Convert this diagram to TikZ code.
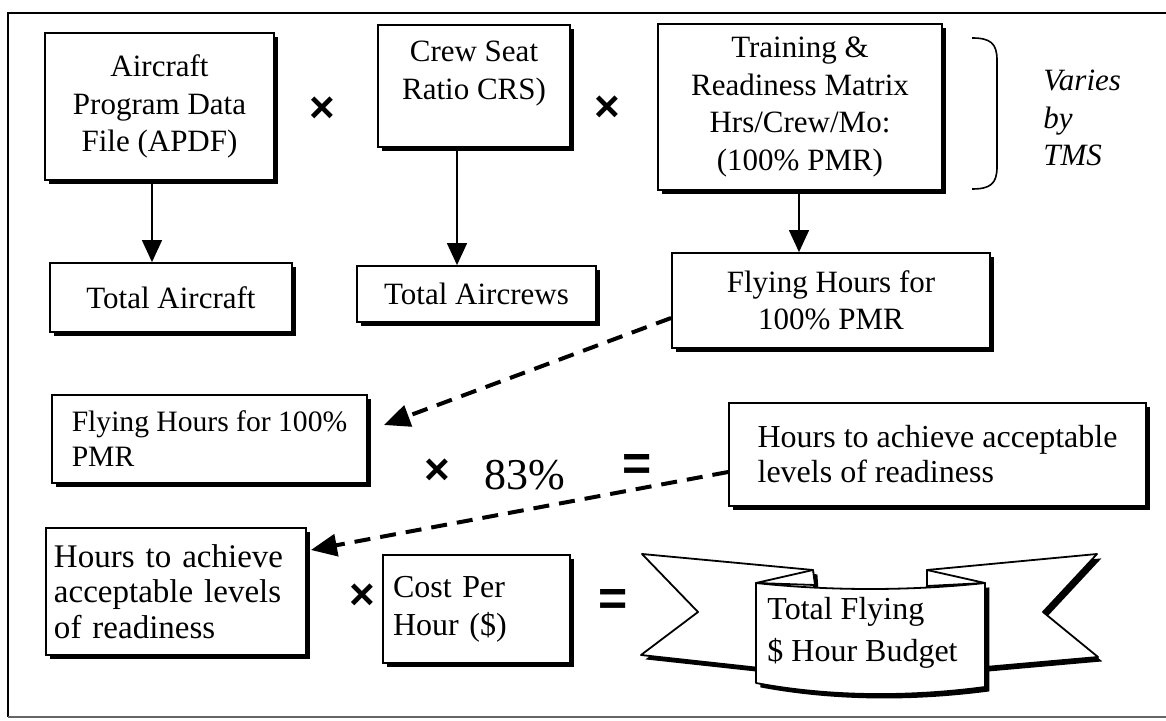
\documentclass[tikz,border=0pt]{standalone}
\usepackage{fontspec}
\setmainfont{Liberation Serif}
\newfontfamily\symfont{Liberation Sans}
\usetikzlibrary{arrows.meta,shadows,calc}
\newcommand\boxfont{\fontsize{15.5}{18.75}\selectfont}
\begin{document}
\begin{tikzpicture}[x=0.5pt,y=-0.5pt,
  shade/.style={drop shadow={shadow xshift=2.2pt,shadow yshift=-2.2pt,fill=black,opacity=1}},
  box/.style={draw,line width=0.9pt,fill=white,inner sep=0pt,align=center,font=\boxfont,shade},
  lbox/.style={box,align=left,inner xsep=#1},
  arr/.style={-{Triangle[length=11pt,width=10pt]},line width=0.7pt},
  darr/.style={-{Triangle[length=13pt,width=11pt]},line width=2pt,dash pattern=on 8pt off 5pt},
  opsym/.style={inner sep=0pt,font={\symfont\bfseries\fontsize{22}{24}\selectfont}},
  eqsym/.style={inner sep=0pt,font={\symfont\bfseries\fontsize{25}{26}\selectfont}},
  ribbon/.style={draw,line width=0.9pt,fill=white,line join=round,shade}]

\useasboundingbox (0,0) rectangle (1166,721);
\fill[white] (0,0) rectangle (1166,721);

% frame
\draw[line width=1pt] (1166,13) -- (8,13) -- (8,717);
\draw[line width=0.8pt,black!60] (8,717) -- (1166,717);

% top row: inputs
\node[box,minimum width=114.5pt,minimum height=73.5pt] (apdf) at (159.5,106.5)
  {Aircraft\\Program Data\\File (APDF)};
\node[opsym] (x1) at (322,110) {×};
\node[box,minimum width=96pt,minimum height=61pt,text depth=16pt] (crs) at (474,86)
  {Crew Seat\\Ratio CRS)};
\node[opsym] (x2) at (607,109) {×};
\node[box,minimum width=142pt,minimum height=83pt] (trm) at (800,107)
  {Training \&\\Readiness Matrix\\Hrs/Crew/Mo:\\(100\% PMR)};

% bracket and note
\draw[line width=0.8pt] (972,38) .. controls (990,38) and (997,43) .. (997,60)
  -- (997,167) .. controls (997,184) and (990,189) .. (972,189);
\node[anchor=west,align=left,font={\itshape\boxfont},inner sep=0pt] (varies) at (1043,118)
  {Varies\\by\\TMS};

% second row: results
\node[box,minimum width=121pt,minimum height=34.5pt] (ta) at (171,297.5) {Total Aircraft};
\node[box,minimum width=119.5pt,minimum height=28pt] (tac) at (476.5,294) {Total Aircrews};
\node[box,minimum width=159pt,minimum height=47.5pt] (fh) at (831,300.5)
  {Flying Hours for\\100\% PMR};

\coordinate (ax1) at (152,0);
\coordinate (ax2) at (457,0);
\coordinate (ax3) at (799,0);
\draw[arr] (apdf.south -| ax1) -- (ta.north -| ax1);
\draw[arr] (crs.south -| ax2) -- (tac.north -| ax2);
\draw[arr] (trm.south -| ax3) -- (fh.north -| ax3);

% third row: readiness factor
\node[box,align=left,minimum width=157.5pt,minimum height=44pt,font=\fontsize{14.8}{17.5}\selectfont]
  (fh2) at (209.5,439) {Flying Hours for 100\%\\PMR};
\draw[darr] ($(fh.west)+(0,17.5)$) -- ($(fh2.east)+(16,-14)$);

\node[opsym] (x3) at (437,472) {×};
\node[font=\fontsize{22}{24}\selectfont,inner sep=0pt] (pct) at (525,475) {83\%};
\node[eqsym] (eq1) at (637,467) {=};
\node[box,align=left,minimum width=208.5pt,minimum height=51.5pt,font=\fontsize{16}{17.5}\selectfont]
  (hr) at (937.5,454.5) {Hours to achieve acceptable\\levels of readiness};

% bottom row: budget
\node[lbox=4pt,text width=122pt,minimum height=63.5pt,font=\fontsize{16.5}{17.75}\selectfont]
  (hl) at (176,591.5) {Hours to achieve\\acceptable levels\\of readiness};
\draw[darr] ($(hr.west)+(0,17.5)$) -- ($(hl.east)+(4,-41.5)$);

\node[opsym] (x4) at (362,597) {×};
\node[lbox=5pt,text width=83.5pt,minimum height=54pt,font=\fontsize{16}{19}\selectfont]
  (cost) at (476.5,609) {Cost Per\\Hour (\$)};
\node[eqsym] (eq2) at (613,602) {=};

% ribbon banner: back tails, folds, front panel
\path[ribbon] (642,554) -- (813,570) -- (815,600) -- (760,668) -- (641,655) -- (698,612) -- cycle;
\path[ribbon] (927,570) -- (1097,554) -- (1043,612) -- (1098,657) -- (985,667) -- (927,620) -- cycle;
\draw[line width=0.9pt,fill=white,line join=round] (756,583) -- (813,570) -- (815,585) -- cycle;
\draw[line width=0.9pt,fill=white,line join=round] (927,570) -- (985,583) -- (927,586) -- cycle;
\path[ribbon] (756,583) .. controls (830,591) and (910,591) .. (985,583)
  -- (985,687) .. controls (910,697) and (830,697) .. (756,683) -- cycle;
\node[anchor=west,align=left,font=\fontsize{16}{21}\selectfont,inner sep=0pt] (budget) at (767,633)
  {Total Flying\\\$ Hour Budget};
\end{tikzpicture}
\end{document}
